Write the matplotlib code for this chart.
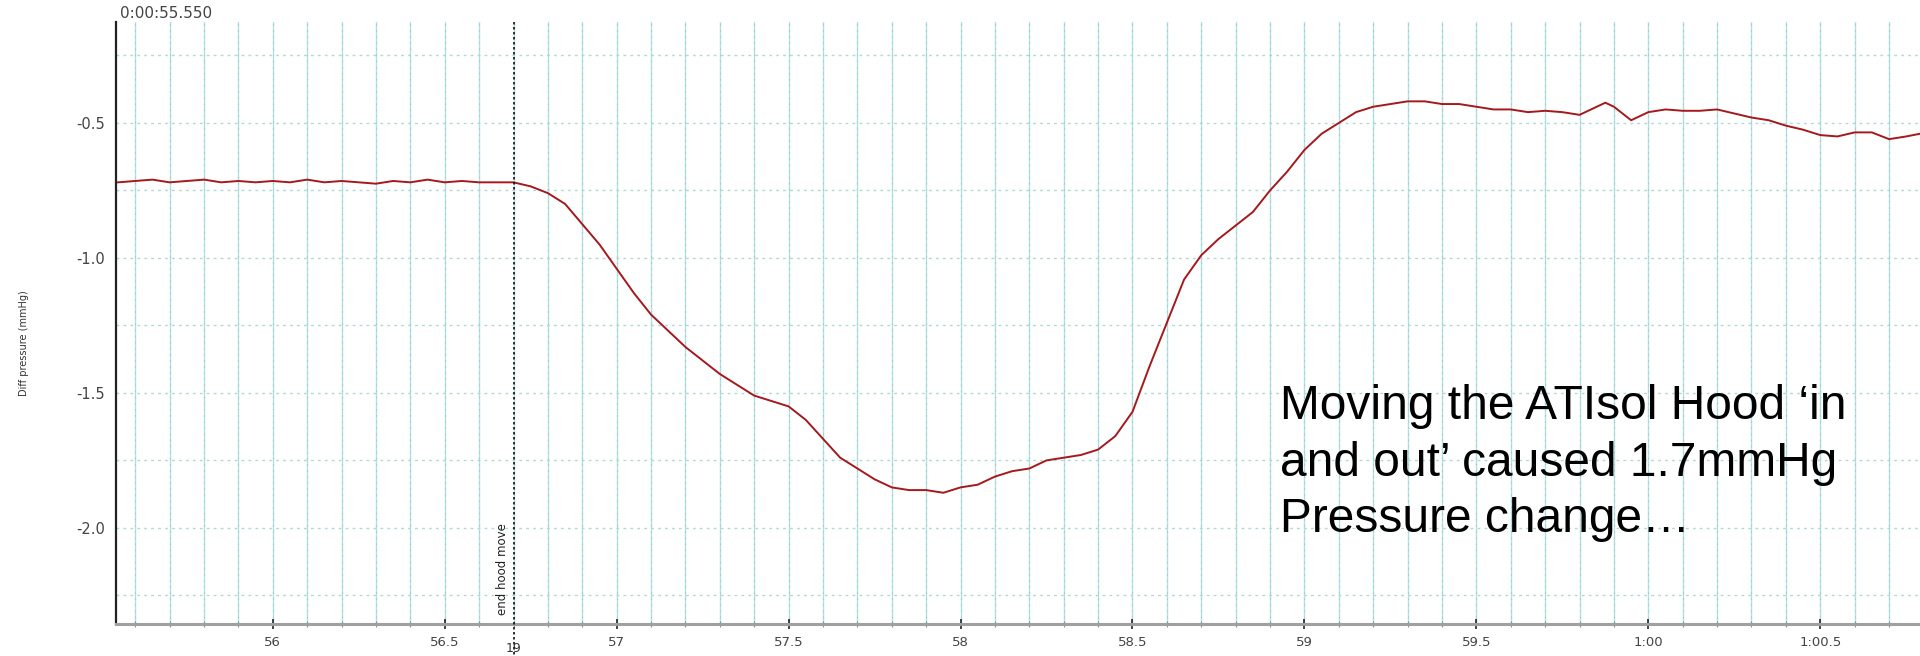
import matplotlib
matplotlib.use("Agg")
import matplotlib.pyplot as plt
import matplotlib.transforms as mtransforms
import numpy as np

# ---- data ----
time_s = [55.55, 55.60, 55.65, 55.70, 55.75, 55.80, 55.85, 55.90, 55.95, 56.00,
          56.05, 56.10, 56.15, 56.20, 56.25, 56.30, 56.35, 56.40, 56.45, 56.50,
          56.55, 56.60, 56.65, 56.70, 56.75, 56.80, 56.85, 56.90, 56.95, 57.00,
          57.05, 57.10, 57.15, 57.20, 57.25, 57.30, 57.35, 57.40, 57.45, 57.50,
          57.55, 57.60, 57.65, 57.70, 57.75, 57.80, 57.85, 57.90, 57.95, 58.00,
          58.05, 58.10, 58.15, 58.20, 58.25, 58.30, 58.35, 58.40, 58.45, 58.50,
          58.55, 58.60, 58.65, 58.70, 58.75, 58.80, 58.85, 58.90, 58.95, 59.00,
          59.05, 59.10, 59.15, 59.20, 59.25, 59.30, 59.35, 59.40, 59.45, 59.50,
          59.55, 59.60, 59.65, 59.70, 59.75, 59.80, 59.85, 59.875, 59.90, 59.95,
          60.00, 60.05, 60.10, 60.15, 60.20, 60.25, 60.30, 60.35, 60.40, 60.45,
          60.50, 60.55, 60.60, 60.65, 60.70, 60.75, 60.79]
pressure = [-0.720, -0.715, -0.710, -0.720, -0.715, -0.710, -0.720, -0.715, -0.720, -0.715,
            -0.720, -0.710, -0.720, -0.715, -0.720, -0.725, -0.715, -0.720, -0.710, -0.720,
            -0.715, -0.720, -0.720, -0.720, -0.735, -0.760, -0.800, -0.875, -0.950, -1.040,
            -1.130, -1.210, -1.270, -1.330, -1.380, -1.430, -1.470, -1.510, -1.530, -1.550,
            -1.600, -1.670, -1.740, -1.780, -1.820, -1.850, -1.860, -1.860, -1.870, -1.850,
            -1.840, -1.810, -1.790, -1.780, -1.750, -1.740, -1.730, -1.710, -1.660, -1.570,
            -1.400, -1.240, -1.080, -0.990, -0.930, -0.880, -0.830, -0.750, -0.680, -0.600,
            -0.540, -0.500, -0.460, -0.440, -0.430, -0.420, -0.420, -0.430, -0.430, -0.440,
            -0.450, -0.450, -0.460, -0.455, -0.460, -0.470, -0.440, -0.425, -0.440, -0.490,
            -0.460, -0.450, -0.455, -0.455, -0.450, -0.465, -0.480, -0.490, -0.510, -0.525,
            -0.545, -0.550, -0.535, -0.535, -0.560, -0.550, -0.540]

x_tick_values = [56.0, 56.5, 57.0, 57.5, 58.0, 58.5, 59.0, 59.5, 60.0, 60.5]
x_tick_labels = ["56", "56.5", "57", "57.5", "58", "58.5", "59", "59.5", "1:00", "1:00.5"]
y_tick_values = [-0.5, -1.0, -1.5, -2.0]
y_tick_labels = ["-0.5", "-1.0", "-1.5", "-2.0"]
marker_time = 56.70
marker_label = "end hood move"
marker_number = "19"
start_label = "0:00:55.550"
y_label = "Diff pressure (mmHg)"
note = "Moving the ATIsol Hood \u2018in\nand out\u2019 caused 1.7mmHg\nPressure change\u2026"

# ---- figure ----
fig = plt.figure(figsize=(19.2, 6.56), dpi=100)
ax = fig.add_axes([0.0604, 0.0488, 0.9396, 0.9177])
xmin, xmax = 55.544, 60.79
ymin, ymax = -2.356, -0.126
ax.set_xlim(xmin, xmax)
ax.set_ylim(ymin, ymax)

# grid: vertical every 0.1 s, horizontal every 0.25
for gx in np.arange(55.6, 60.8, 0.1):
    ax.axvline(gx, color="#a9e3e6", lw=1.0, zorder=0)
    ax.axvline(gx, color="#b8c4c4", lw=0.8, ls=(0, (1.5, 4)), zorder=0)
for gy in np.arange(-2.25, -0.2, 0.25):
    ax.axhline(gy, color="#b0d8d8", lw=1.0, ls=(0, (2, 3)), zorder=0)

# trace
ax.plot(time_s, pressure, color="#a5181c", lw=1.4, zorder=3)

# marker line
trans = mtransforms.blended_transform_factory(ax.transData, ax.transAxes)
ax.plot([marker_time, marker_time], [1.0, -0.08], transform=trans, color="#111111",
        lw=1.2, ls=(0, (1.5, 1.5)), clip_on=False, zorder=4)
ax.text(marker_time - 0.012, 0.015, marker_label, transform=trans, rotation=90,
        ha="right", va="bottom", fontsize=8.5, color="#222222", family="DejaVu Sans")
trans_fig_x = mtransforms.blended_transform_factory(ax.transData, fig.transFigure)
ax.text(marker_time, 1 - 649 / 656, marker_number, transform=trans_fig_x,
        ha="center", va="center", fontsize=9, color="#333333", clip_on=False,
        bbox=dict(boxstyle="square,pad=0.1", facecolor="white", edgecolor="none"))

# spines
for s in ["top", "right"]:
    ax.spines[s].set_visible(False)
ax.spines["left"].set_color("#222222")
ax.spines["left"].set_linewidth(1.6)
ax.spines["bottom"].set_color("#a0a0a0")
ax.spines["bottom"].set_linewidth(2.2)

ax.set_xticks(x_tick_values)
ax.set_xticklabels(x_tick_labels)
ax.set_xticks(np.arange(55.6, 60.8, 0.1), minor=True)
ax.tick_params(axis="x", which="major", direction="inout", length=7, width=1.2,
               color="#222222", labelsize=9.5, labelcolor="#444444", pad=5)
ax.tick_params(axis="x", which="minor", direction="inout", length=4, width=0.8,
               color="#888888")
ax.set_yticks(y_tick_values)
ax.set_yticklabels(y_tick_labels)
ax.tick_params(axis="y", length=0, labelsize=10.5, labelcolor="#444444", pad=8)

fig.text(24 / 1920, 1 - 343 / 656, y_label, rotation=90, ha="center", va="center",
         fontsize=7, color="#333333")
fig.text(120 / 1920, 1 - 14 / 656, start_label, ha="left", va="center",
         fontsize=11, color="#444444")

fig.text(1280 / 1920, 1 - 384 / 656, note, ha="left", va="top", fontsize=34.5,
         family="Liberation Sans", color="black", linespacing=1.33)

fig.savefig("out.png", dpi=100, facecolor="white")
